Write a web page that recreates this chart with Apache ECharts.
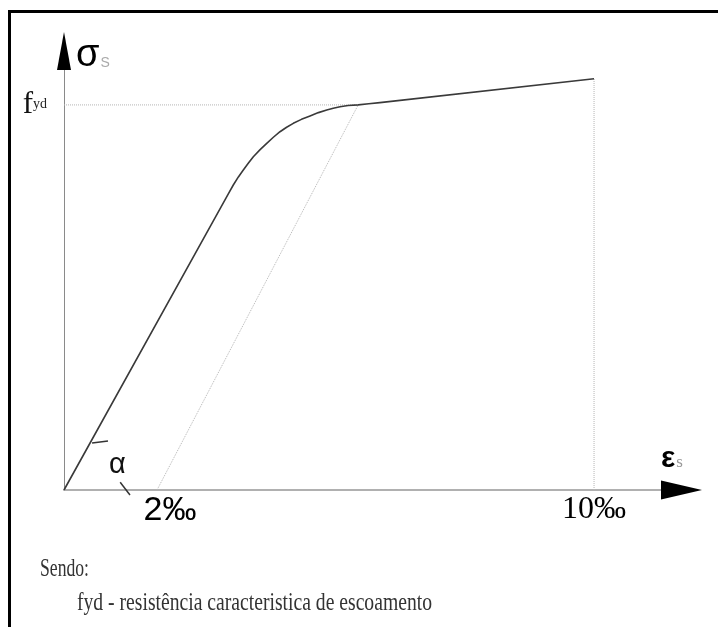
<!DOCTYPE html>
<html>
<head>
<meta charset="utf-8">
<script src="https://cdn.jsdelivr.net/npm/echarts@6/dist/echarts.min.js"></script>
<style>
  html, body { margin: 0; padding: 0; background: #fff; }
  #chart { width: 718px; height: 627px; }
</style>
</head>
<body>
<div id="chart"></div>
<script>
// Stress–strain diagram for reinforcing steel (strain in ‰, stress relative to fyd = 100)
const xMax = 11.65;
const yMax = 114;
const fyd = 100;

// Steel curve: linear elastic branch, rounded knee, then hardening branch
const curveX = [0, 3.10, 3.194, 3.29, 3.383, 3.48, 3.572, 3.70, 3.825, 3.95, 4.075, 4.20, 4.326, 4.48, 4.642, 4.80, 4.957, 5.08, 5.208, 5.36, 5.55, 5.75, 5.96, 10];
const curveY = [0, 76.9, 79.2, 81.3, 83.1, 84.9, 86.55, 88.4, 90.03, 91.6, 93.04, 94.2, 95.22, 96.25, 97.12, 98.0, 98.68, 99.15, 99.53, 99.85, 100.0, 100.3, 100.6, 106.8];

// Offset line parallel to the elastic branch, starting at the offset strain
const offsetX = [1.755, 5.55];
const offsetY = [0, fyd];

// Guide lines
const fydGuideX = [0, 5.55];
const endGuideX = [10, 10];
const endGuideY = [0, 106.8];

// Small marks showing the angle α of the elastic branch
const alphaMark1X = [0.53, 0.83];
const alphaMark1Y = [12.2, 12.7];
const alphaMark2X = [1.06, 1.245];
const alphaMark2Y = [2.0, -1.3];

// Axis tick labels
const xTickValues = [2, 10];
const xTickLabels = ['2‰', '10‰'];
const yTickValues = [fyd];

const zip = (xs, ys) => xs.map((x, i) => [x, ys[i]]);

const chart = echarts.init(document.getElementById('chart'), null, { renderer: 'canvas' });

function fitScale(text, font, target) {
  const ctx = document.createElement('canvas').getContext('2d');
  ctx.font = font;
  return target / ctx.measureText(text).width;
}

const line1 = 'Sendo:';
const line2 = 'fyd - resistência caracteristica de escoamento';
const noteFont = '26px "Liberation Serif"';

const dotted = { type: 'dotted', color: '#b5b5b5', width: 1 };

const option = {
  animation: false,
  backgroundColor: '#ffffff',
  grid: { left: 64, top: 51, width: 617.5, height: 439, outerBoundsMode: 'none', containLabel: false },
  xAxis: {
    type: 'value', min: 0, max: xMax,
    axisLine: { show: true, lineStyle: { color: '#b0b0b0', width: 2 } },
    axisTick: { show: false },
    splitLine: { show: false },
    axisLabel: {
      customValues: xTickValues,
      margin: 4,
      formatter: v => {
        const i = xTickValues.indexOf(v);
        return i === 0 ? '{s|' + xTickLabels[i] + '}' : '{r|' + xTickLabels[i] + '}';
      },
      rich: {
        s: { fontFamily: 'Liberation Sans', fontSize: 34, color: '#000' },
        r: { fontFamily: 'Liberation Serif', fontSize: 32, color: '#000' }
      }
    }
  },
  yAxis: {
    type: 'value', min: 0, max: yMax,
    axisLine: { show: true, lineStyle: { color: '#8a8a8a', width: 1 } },
    axisTick: { show: false },
    splitLine: { show: false },
    axisLabel: {
      customValues: yTickValues,
      margin: 17,
      formatter: () => '{f|f}{s|yd}',
      rich: {
        f: { fontFamily: 'Liberation Serif', fontSize: 31, color: '#111', verticalAlign: 'middle' },
        s: { fontFamily: 'Liberation Serif', fontSize: 14, color: '#222', verticalAlign: 'middle', padding: [0, 0, 2, 0] }
      }
    }
  },
  series: [
    { type: 'line', data: zip(fydGuideX, [fyd, fyd]), symbol: 'none', lineStyle: dotted, silent: true, z: 1 },
    { type: 'line', data: zip(offsetX, offsetY), symbol: 'none', lineStyle: dotted, silent: true, z: 1 },
    { type: 'line', data: zip(endGuideX, endGuideY), symbol: 'none', lineStyle: dotted, silent: true, z: 1 },
    { type: 'line', data: zip(curveX, curveY), symbol: 'none', smooth: false,
      lineStyle: { color: '#3a3a3a', width: 1.6, join: 'round' }, silent: true, z: 3 },
    { type: 'line', data: zip(alphaMark1X, alphaMark1Y), symbol: 'none', clip: false,
      lineStyle: { color: '#333', width: 1.5 }, silent: true, z: 3 },
    { type: 'line', data: zip(alphaMark2X, alphaMark2Y), symbol: 'none', clip: false,
      lineStyle: { color: '#333', width: 1.5 }, silent: true, z: 3 },
    { type: 'scatter', data: [[xMax, 0]], symbol: 'triangle', symbolSize: [19, 41], symbolRotate: -90,
      itemStyle: { color: '#000', opacity: 1 }, clip: false, silent: true, z: 5 },
    { type: 'scatter', data: [[0, yMax]], symbol: 'triangle', symbolSize: [14, 38],
      itemStyle: { color: '#000', opacity: 1 }, clip: false, silent: true, z: 5 }
  ],
  graphic: [
    // frame
    { type: 'line', shape: { x1: 8, y1: 11.5, x2: 718, y2: 11.5 }, style: { stroke: '#000', lineWidth: 3 } },
    { type: 'line', shape: { x1: 9.5, y1: 10, x2: 9.5, y2: 627 }, style: { stroke: '#000', lineWidth: 3 } },
    // axis names
    { type: 'text', x: 76, y: 56, style: {
        text: '{a|σ}{b|S}', verticalAlign: 'middle',
        rich: {
          a: { fontFamily: 'Liberation Sans', fontSize: 38, fill: '#000', verticalAlign: 'middle' },
          b: { fontFamily: 'Liberation Sans', fontSize: 14, fill: '#aaa', verticalAlign: 'middle', padding: [14, 0, 0, 1] }
        } } },
    { type: 'text', x: 661, y: 459, style: {
        text: '{a|ε}{b|s}', verticalAlign: 'middle',
        rich: {
          a: { fontFamily: 'Liberation Sans', fontSize: 30, fontWeight: 'bold', fill: '#000', verticalAlign: 'middle' },
          b: { fontFamily: 'Liberation Serif', fontSize: 17, fill: '#999', verticalAlign: 'middle', padding: [8, 0, 0, 1] }
        } } },
    { type: 'text', x: 109, y: 465, style: {
        text: 'α', fontFamily: 'Liberation Sans', fontSize: 29, fill: '#111', verticalAlign: 'middle' } },
    // notes
    { type: 'text', x: 40, y: 569, scaleX: fitScale(line1, noteFont, 49), style: {
        text: line1, font: noteFont, fill: '#333', verticalAlign: 'middle' } },
    { type: 'text', x: 77, y: 603, scaleX: fitScale(line2, noteFont, 355), style: {
        text: line2, font: noteFont, fill: '#333', verticalAlign: 'middle' } }
  ]
};

chart.setOption(option);
</script>
</body>
</html>
